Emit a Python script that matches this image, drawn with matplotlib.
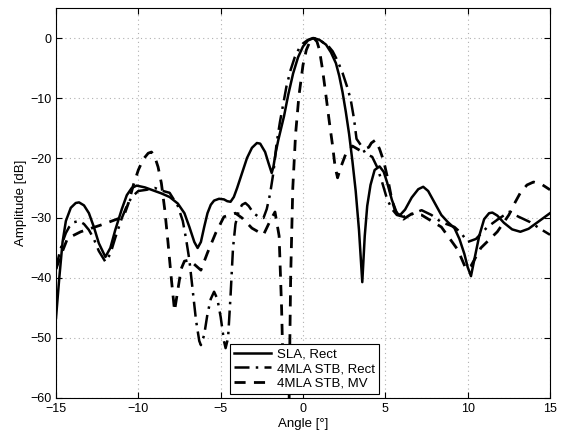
import matplotlib
matplotlib.use("Agg")
import matplotlib.pyplot as plt

plt.rcParams['font.family'] = ['Liberation Sans', 'DejaVu Sans']

# SLA, Rect (solid)
sla_x = [-15, -14.8, -14.6, -14.4, -14.1, -13.8, -13.6, -13.3, -13.0, -12.7, -12.4, -12.0, -11.7,
         -11.4, -11.0, -10.7, -10.4, -10.1, -9.6, -9.2, -8.6, -8.1, -7.6, -7.2, -6.9, -6.6, -6.4,
         -6.2, -6.0, -5.8, -5.6, -5.4, -5.1, -4.8, -4.6, -4.4, -4.2, -4.0, -3.7, -3.4, -3.1, -2.8,
         -2.6, -2.3, -2.1, -1.9, -1.8, -1.65, -1.5, -1.15, -0.9, -0.6, -0.3, 0.0, 0.3, 0.65, 1.0,
         1.4, 1.7, 2.0, 2.2, 2.4, 2.6, 2.8, 3.0, 3.2, 3.4, 3.6, 3.75, 3.9, 4.1, 4.35, 4.65,
         4.9, 5.1, 5.4, 5.7, 5.9, 6.2, 6.6, 7.0, 7.3, 7.6, 7.9, 8.4, 8.8, 9.2, 9.5, 9.8,
         10.0, 10.2, 10.4, 10.7, 11.0, 11.3, 11.5, 11.8, 12.2, 12.7, 13.2, 13.7, 14.2, 14.6, 15.0]
sla_y = [-46.7, -40, -34, -30.5, -28.3, -27.5, -27.4, -27.9, -29.2, -31.5, -34.2, -36.5, -35,
         -32, -28.5, -26.2, -25.0, -24.6, -24.9, -25.3, -25.9, -26.5, -27.6, -29.2, -31.5, -34, -35.0,
         -34, -31.5, -29.2, -27.8, -27.1, -26.8, -26.9, -27.2, -27.3, -26.5, -25, -22.5, -20, -18.3, -17.5,
         -17.6, -19, -20.8, -22.5, -21.5, -19, -17, -13, -9.5, -5.9, -3.2, -1.4, -0.4, 0.0, -0.3,
         -1.1, -2.4, -4.2, -6.3, -9.0, -12.3, -16, -20.5, -25.5, -32, -40.7, -33, -28, -24.5, -22, -21.4,
         -22.3, -24, -27, -29.2, -29.5, -28.6, -26.6, -25.2, -24.8, -25.5, -27, -29.5, -30.7, -31.7, -33.5, -36,
         -38.2, -39.7, -37, -33, -30.2, -29.2, -29.1, -29.6, -30.8, -31.9, -32.3, -31.8, -30.8, -30, -29.2]

# 4MLA STB, Rect (dash-dot)
stbr_x = [-15, -14.8, -14.6, -14.4, -14.2, -13.9, -13.6, -13.3, -13.0, -12.7, -12.4, -12.0, -11.7,
          -11.4, -11.0, -10.7, -10.4, -10.0, -9.5, -9.0, -8.5, -8.1, -7.6, -7.3, -7.1, -6.9, -6.7,
          -6.5, -6.3, -6.2, -6.0, -5.8, -5.6, -5.4, -5.2, -5.0, -4.8, -4.7, -4.55, -4.4, -4.25, -4.1,
          -3.9, -3.7, -3.5, -3.3, -3.0, -2.7, -2.4, -2.2, -2.0, -1.8, -1.6, -1.4, -1.2, -1.0, -0.75,
          -0.5, -0.25, 0.0, 0.3, 0.6, 0.9, 1.2, 1.5, 1.8, 2.1, 2.4, 2.7, 2.9, 3.1, 3.25, 3.5,
          3.8, 4.2, 4.5, 4.8, 5.1, 5.4, 5.7, 6.1, 6.5, 7.2, 7.8, 8.4, 9.2, 9.6, 10.0, 10.5,
          11.2, 11.8, 12.5, 13.1, 13.8, 14.4, 15.0]
stbr_y = [-38.5, -36, -34, -32.5, -31.5, -30.7, -30.5, -31, -32, -33.5, -35.5, -37.3, -36,
          -33.3, -30, -28, -26.5, -25.5, -25.3, -25, -25.5, -25.8, -28, -30.5, -33.5, -37, -42,
          -47, -50.5, -51.2, -49.5, -46, -43.5, -42.3, -43.5, -46.5, -50.5, -51.7, -50, -43, -35, -31,
          -28.8, -27.8, -27.5, -28, -29.2, -29.8, -30, -28.5, -26, -22.5, -17.5, -14, -11, -8, -5.3,
          -3.2, -1.8, -0.9, -0.3, 0.0, -0.2, -0.7, -1.2, -2.2, -3.8, -5.8, -8.3, -10.3, -13.5, -16.8, -17.8,
          -19.3, -19.8, -21.5, -24, -26.8, -28.5, -29.5, -29.8, -29.5, -28.7, -29.5, -30.7, -31.5, -32.5, -34, -33.5,
          -31.5, -30.3, -29, -29.8, -30.7, -31.8, -32.8]

# 4MLA STB, MV (dashed)
stbm_x = [-15, -14.6, -14.3, -13.5, -12.3, -10.9, -10.6, -10.3, -10.0, -9.7, -9.4, -9.2, -9.0,
          -8.8, -8.6, -8.4, -8.2, -8.0, -7.8, -7.6, -7.4, -7.2, -6.9, -6.2, -5.8, -5.3, -4.8,
          -4.1, -3.7, -3.1, -2.4, -2.0, -1.7, -1.45, -1.3, -1.15, -0.85, -0.75, -0.62, -0.45, -0.25, 0.0,
          0.2, 0.45, 0.65, 0.85, 1.0, 1.2, 1.4, 1.6, 1.8, 1.95, 2.1, 2.3, 2.6, 3.0, 3.5, 4.0,
          4.15, 4.4, 4.65, 4.9, 5.15, 5.4, 5.6, 5.8, 6.1, 6.6, 7.2, 8.4, 9.4, 9.9, 10.2, 10.8,
          11.8, 12.5, 12.9, 13.2, 13.6, 14.0, 14.5, 15.0]
stbm_y = [-38.5, -35.5, -33.4, -32.3, -31.2, -29.8, -27.5, -24.5, -22, -20.2, -19.2, -19.0, -19.8,
          -21.5, -24.2, -28.5, -34, -40, -45.5, -42, -38.5, -37.2, -37.0, -38.7, -35.8, -32.5, -29.8,
          -29.2, -30, -31.7, -32.8, -30.5, -29, -33, -45, -62, -62, -40, -25, -16, -9.7, -4.5,
          -2, -0.4, 0, -0.6, -2, -5.5, -9.7, -14, -18, -21.5, -23.3, -21.5, -19.3, -18, -18.8, -18.2,
          -17.5, -17.0, -18.5, -20.5, -23.5, -27, -28.8, -29.5, -30.2, -29.3, -29.5, -31.5, -35.3, -38.5, -38, -35,
          -32.3, -29.5, -27.3, -25.8, -24.5, -24, -24.4, -25.3]

fig = plt.figure(figsize=(5.61, 4.37), dpi=100)
ax = fig.add_axes([0.0998, 0.0895, 0.8806, 0.892])

ax.plot(sla_x, sla_y, color='black', lw=1.8, ls='-', label='SLA, Rect')
ax.plot(stbr_x, stbr_y, color='black', lw=1.8, ls=(0, (6, 2.5, 1, 2.5)), label='4MLA STB, Rect')
ax.plot(stbm_x, stbm_y, color='black', lw=2.0, ls=(0, (4, 3)), label='4MLA STB, MV')

ax.set_xlim(-15, 15)
ax.set_ylim(-60, 5)
ax.set_xticks([-15, -10, -5, 0, 5, 10, 15])
ax.set_yticks([-60, -50, -40, -30, -20, -10, 0])
ax.grid(True, color='#b0b0b0', ls=(0, (1, 3)), lw=0.8)
ax.tick_params(direction='in', labelsize=9, length=4, top=True, right=True)
ax.set_xlabel('Angle [°]', fontsize=9.5, labelpad=2)
ax.set_ylabel('Amplitude [dB]', fontsize=9.5, labelpad=2)
for s in ax.spines.values():
    s.set_linewidth(0.8)

leg = ax.legend(loc='lower left', bbox_to_anchor=(0.345, 0.0), fontsize=9.5,
                fancybox=False, edgecolor='black', framealpha=1, borderpad=0.3,
                handlelength=2.8, handletextpad=0.4, labelspacing=0.2, borderaxespad=0.3)
leg.get_frame().set_linewidth(0.8)

fig.savefig('out.png', dpi=100)
